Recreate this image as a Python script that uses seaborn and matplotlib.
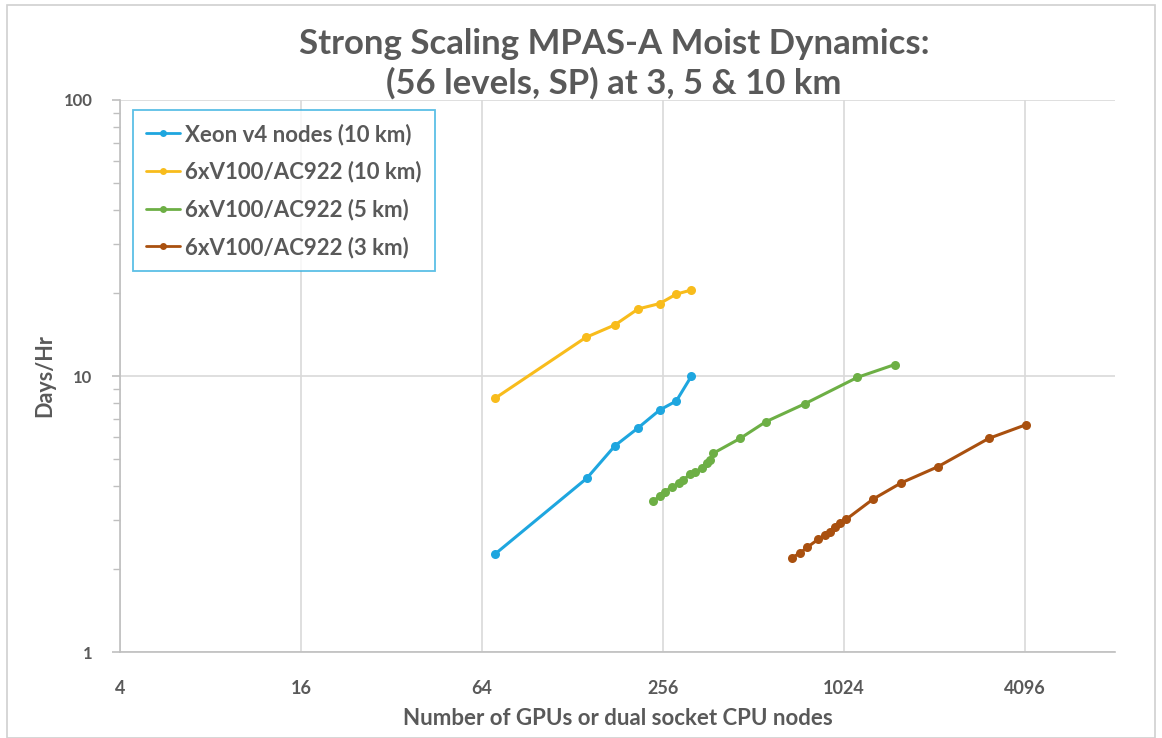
import matplotlib
matplotlib.use("Agg")
import matplotlib.pyplot as plt
import matplotlib.ticker as mticker
from matplotlib.patches import Rectangle
import seaborn as sns
import pandas as pd

# ---- data ----
xeon_x = [71, 143, 177, 212, 250, 284, 319]
xeon_y = [2.27, 4.26, 5.57, 6.49, 7.53, 8.12, 10.0]

v100_10_x = [71, 142, 177, 212, 250, 284, 319]
v100_10_y = [8.32, 13.8, 15.3, 17.5, 18.3, 19.8, 20.5]

v100_5_x = [237, 251, 261, 274, 289, 300, 316, 328, 345, 359, 368, 377, 463, 564, 760, 1138, 1514]
v100_5_y = [3.53, 3.66, 3.81, 3.97, 4.08, 4.20, 4.42, 4.50, 4.63, 4.83, 4.97, 5.25, 5.94, 6.83, 7.93, 9.89, 11.0]

v100_3_x = [690, 732, 776, 842, 886, 921, 957, 994, 1046, 1282, 1591, 2106, 3110, 4138]
v100_3_y = [2.20, 2.28, 2.40, 2.56, 2.65, 2.73, 2.84, 2.94, 3.03, 3.58, 4.10, 4.69, 5.94, 6.66]

series_names = ["Xeon v4 nodes (10 km)", "6xV100/AC922 (10 km)",
                "6xV100/AC922 (5 km)", "6xV100/AC922 (3 km)"]
series_colors = ["#1EA6DF", "#F8BC1C", "#6DAF45", "#A9500F"]

x_ticks = [4, 16, 64, 256, 1024, 4096]
y_ticks = [1, 10, 100]

title = "Strong Scaling MPAS-A Moist Dynamics:\n(56 levels, SP) at 3, 5 & 10 km"
xlabel = "Number of GPUs or dual socket CPU nodes"
ylabel = "Days/Hr"

# ---- plotting ----
sns.set_theme(style="white")
plt.rcParams["font.family"] = ["Lato", "DejaVu Sans"]
text_color = "#595959"

fig = plt.figure(figsize=(11.62, 7.38), dpi=100)
ax = fig.add_axes([0.1033, 0.1165, 0.8563, 0.748])

all_x = [xeon_x, v100_10_x, v100_5_x, v100_3_x]
all_y = [xeon_y, v100_10_y, v100_5_y, v100_3_y]
for xs, ys, name, col in zip(all_x, all_y, series_names, series_colors):
    sns.lineplot(x=xs, y=ys, ax=ax, color=col, marker="o", markersize=6.5,
                 markeredgewidth=0, linewidth=2.2, label=name, sort=False)

ax.set_xscale("log", base=2)
ax.set_yscale("log")
ax.set_xlim(4, 8192)
ax.set_ylim(1, 100)

ax.xaxis.set_major_locator(mticker.FixedLocator(x_ticks))
ax.xaxis.set_major_formatter(mticker.FixedFormatter([str(v) for v in x_ticks]))
ax.xaxis.set_minor_locator(mticker.NullLocator())
ax.yaxis.set_major_locator(mticker.FixedLocator(y_ticks))
ax.yaxis.set_major_formatter(mticker.FixedFormatter([str(v) for v in y_ticks]))
ax.yaxis.set_minor_locator(mticker.LogLocator(base=10, subs=range(2, 10)))
ax.yaxis.set_minor_formatter(mticker.NullFormatter())

ax.grid(True, which="major", color="#D9D9D9", linewidth=1.2)
ax.set_axisbelow(True)
for s in ["top", "right"]:
    ax.spines[s].set_visible(False)
ax.spines["left"].set_color("#BFBFBF")
ax.spines["bottom"].set_color("#BFBFBF")
ax.spines["left"].set_linewidth(1.2)
ax.spines["bottom"].set_linewidth(1.2)

ax.tick_params(axis="x", which="major", length=0, pad=20, labelsize=13, labelcolor=text_color)
ax.tick_params(axis="y", which="major", length=6, width=1.2, color="#BFBFBF", pad=14,
               labelsize=12, labelcolor=text_color, left=True)
ax.tick_params(axis="y", which="minor", length=5, width=1.0, color="#BFBFBF", left=True)
for lab in ax.get_xticklabels() + ax.get_yticklabels():
    lab.set_fontweight("bold")

ax.set_xlabel(xlabel, fontsize=16, fontweight="bold", color=text_color, labelpad=8)
ax.set_ylabel(ylabel, fontsize=15.5, fontweight="bold", color=text_color, labelpad=6)

fig.text(0.5285, 0.962, title, ha="center", va="top", fontsize=25, fontweight="bold",
         color=text_color, linespacing=1.25)

leg = ax.legend(loc="upper left", bbox_to_anchor=(0.013, 0.982), borderaxespad=0,
                frameon=True, fancybox=False,
                handlelength=1.5, handletextpad=0.25, labelspacing=0.72,
                borderpad=0.6, prop={"weight": "bold", "size": 16})
leg.get_frame().set_edgecolor("#33B0E0")
leg.get_frame().set_linewidth(1.3)
for t in leg.get_texts():
    t.set_color(text_color)
for h in leg.legend_handles:
    h.set_linewidth(2)
    h.set_markersize(5)

# outer chart border
fig.patches.append(Rectangle((0.006, 0.0), 0.988, 0.993, transform=fig.transFigure,
                             fill=False, edgecolor="#D0D0D0", linewidth=1.2))

fig.savefig("out.png", dpi=100)
